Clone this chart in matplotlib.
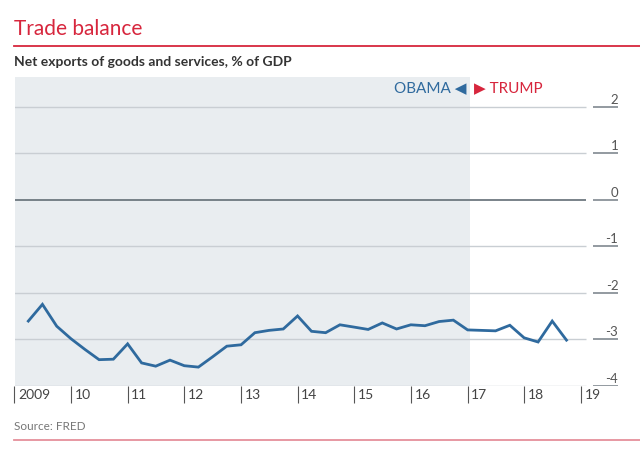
import numpy as np
import pandas as pd
import matplotlib.pyplot as plt
from matplotlib.transforms import ScaledTranslation

plt.rcParams['font.family'] = ['Lato', 'DejaVu Sans']

# quarterly net exports, % of GDP, 2009Q1 - 2018Q3
quarters = pd.date_range('2009-03-31', periods=39, freq='QE')
net_exports = [-2.61, -2.25, -2.72, -2.99, -3.22, -3.44, -3.43, -3.10, -3.51, -3.58,
               -3.45, -3.57, -3.60, -3.38, -3.15, -3.12, -2.86, -2.81, -2.78, -2.50,
               -2.83, -2.86, -2.69, -2.74, -2.79, -2.65, -2.78, -2.69, -2.71, -2.62,
               -2.59, -2.80, -2.81, -2.82, -2.70, -2.97, -3.06, -2.61, -3.02]
year_ticks = list(range(2009, 2020))
year_labels = ['2009', '10', '11', '12', '13', '14', '15', '16', '17', '18', '19']
y_ticks = [2, 1, 0, -1, -2, -3, -4]
obama_end = 2017.05

red = '#d7263d'
blue = '#2f6a9e'
fams = ['Lato', 'DejaVu Sans']

x = quarters.year + (quarters.dayofyear - 1) / 365.0

fig = plt.figure(figsize=(6.4, 4.6), dpi=100)
ax = fig.add_axes([14.5 / 640, 73.3 / 460, 605.5 / 640, 308.7 / 460])
ax.set_xlim(2009, 2019.69)
ax.set_ylim(-4, 2.64)

ax.axvspan(2009, obama_end, color='#e9edf0', lw=0, zorder=0)

for v in y_ticks:
    gc = '#6e7880' if v == 0 else '#c9ced3'
    lw = 1.3 if v == 0 else 1.0
    ax.hlines(v, 2009, 2019.09, color=gc, lw=lw, zorder=1)
    ax.hlines(v, 2019.22, 2019.66, color='#8a9299', lw=1.3, zorder=1)
    ax.annotate(str(v), (2019.66, v), xytext=(0, 1.5),
                textcoords='offset points', ha='right', va='bottom',
                fontsize=9.5, color='#555555')

ax.plot(x, net_exports, color=blue, lw=2.0, zorder=3, solid_joinstyle='miter')

for s in ax.spines.values():
    s.set_visible(False)
ax.set_yticks([])
ax.set_xticks(year_ticks)
ax.set_xticklabels(year_labels, ha='left', fontsize=10, color='#444444')
ax.tick_params(axis='x', length=12, width=0.8, color='#555555', pad=-10.5)
for lbl in ax.get_xticklabels():
    lbl.set_transform(lbl.get_transform() + ScaledTranslation(2.5 / 72, 0, fig.dpi_scale_trans))

ax.text(obama_end - 0.07, 2.42, 'OBAMA \u25C0', ha='right', va='center',
        fontsize=11, color=blue, family=fams)
ax.text(obama_end + 0.07, 2.42, '\u25B6 TRUMP', ha='left', va='center',
        fontsize=11, color=red, family=fams)

fig.text(14 / 640, 1 - 29 / 460, 'Trade balance', fontsize=15, color=red,
         ha='left', va='center')
fig.add_artist(plt.Line2D([14 / 640, 1], [1 - 47 / 460] * 2, color=red, lw=1.3))
fig.text(14 / 640, 1 - 62 / 460, 'Net exports of goods and services, % of GDP',
         fontsize=10, color='#333333', fontweight='bold', ha='left', va='center')
fig.text(14 / 640, 1 - 427 / 460, 'Source: FRED', fontsize=8.5, color='#777777',
         ha='left', va='center')
fig.add_artist(plt.Line2D([14 / 640, 1], [1 - 441 / 460] * 2, color='#e5909b', lw=1.3))

fig.savefig('out.png', dpi=100)
